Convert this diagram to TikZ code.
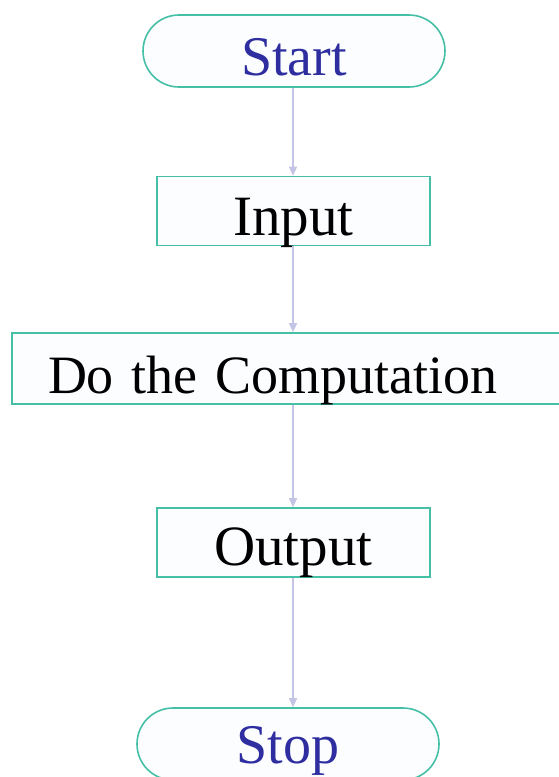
\documentclass[tikz,border=0pt]{standalone}
\usepackage{fontspec}
\setmainfont{Liberation Serif}
\usetikzlibrary{shapes.misc,arrows.meta}
\definecolor{edgeteal}{HTML}{45BFA5}
\definecolor{boxfill}{HTML}{FBFDFF}
\definecolor{arrowlav}{HTML}{C4C4E6}
\definecolor{termblue}{HTML}{2E2EA0}
\tikzset{
  x=1pt, y=1pt,
  termbox/.style={rounded rectangle, draw=edgeteal, line width=1.6pt, fill=boxfill,
    minimum height=72pt, inner sep=0pt, text depth=0pt, font=\fontsize{56}{56}\selectfont, text=termblue},
  procbox/.style={rectangle, draw=edgeteal, line width=1.6pt, fill=boxfill,
    minimum height=69pt, inner sep=0pt, text depth=0pt, font=\fontsize{57}{57}\selectfont, text=black},
  flow/.style={draw=arrowlav, line width=1.2pt, -{Triangle[length=9pt,width=8pt]}}
}
\begin{document}
\begin{tikzpicture}
\fill[white] (0,0) rectangle (558,-777);
\useasboundingbox (0,0) rectangle (558,-777);
\node[termbox, minimum width=302pt, text height=48pt] (start) at (294,-51) {Start};
\node[procbox, minimum width=273pt, text height=48pt] (input) at (293.5,-211) {Input};
\node[procbox, minimum width=562pt, minimum height=71pt, text height=49pt, text width=490pt, align=left, font=\fontsize{54}{54}\selectfont] (comp) at (293,-368.5) {Do the Computation};
\node[procbox, minimum width=273pt, text height=45pt] (output) at (293.5,-542.5) {Output};
\node[termbox, minimum width=302pt, text height=38pt] (stop) at (288,-744) {Stop};
\draw[flow] (start.south -| 293,0) -- (input.north -| 293,0);
\draw[flow] (input.south -| 293,0) -- (comp.north -| 293,0);
\draw[flow] (comp.south -| 293,0) -- (output.north -| 293,0);
\draw[flow] (output.south -| 293,0) -- (stop.north -| 293,0);
\end{tikzpicture}
\end{document}
